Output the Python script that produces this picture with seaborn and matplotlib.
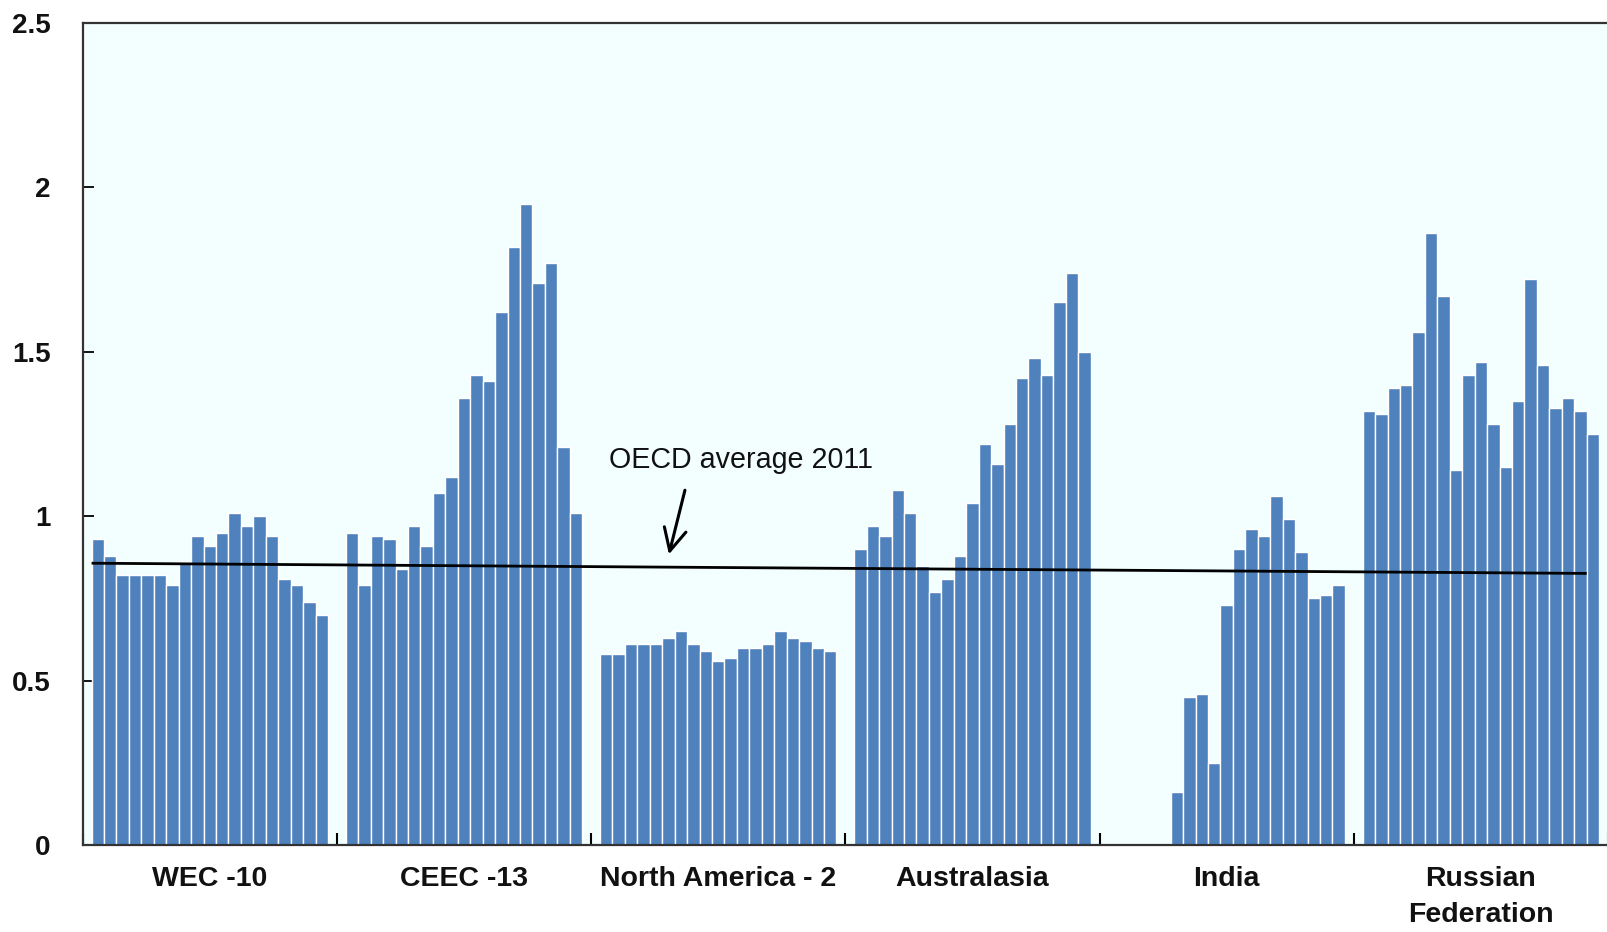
import numpy as np
import pandas as pd
import matplotlib
matplotlib.use("Agg")
import matplotlib.pyplot as plt
from matplotlib import font_manager
import seaborn as sns

# ---------------- data ----------------
regions = ["WEC -10", "CEEC -13", "North America - 2", "Australasia", "India", "Russian\nFederation"]
years = list(range(1990, 2009))  # 19 bars per region

wec = [0.93, 0.88, 0.82, 0.82, 0.82, 0.82, 0.79, 0.86, 0.94, 0.91, 0.95, 1.01, 0.97, 1.00, 0.94, 0.81, 0.79, 0.74, 0.70]
ceec = [0.95, 0.79, 0.94, 0.93, 0.84, 0.97, 0.91, 1.07, 1.12, 1.36, 1.43, 1.41, 1.62, 1.82, 1.95, 1.71, 1.77, 1.21, 1.01]
north_america = [0.58, 0.58, 0.61, 0.61, 0.61, 0.63, 0.65, 0.61, 0.59, 0.56, 0.57, 0.60, 0.60, 0.61, 0.65, 0.63, 0.62, 0.60, 0.59]
australasia = [0.90, 0.97, 0.94, 1.08, 1.01, 0.85, 0.77, 0.81, 0.88, 1.04, 1.22, 1.16, 1.28, 1.42, 1.48, 1.43, 1.65, 1.74, 1.50]
india = [np.nan, np.nan, np.nan, np.nan, np.nan, 0.16, 0.45, 0.46, 0.25, 0.73, 0.90, 0.96, 0.94, 1.06, 0.99, 0.89, 0.75, 0.76, 0.79]
russia = [1.32, 1.31, 1.39, 1.40, 1.56, 1.86, 1.67, 1.14, 1.43, 1.47, 1.28, 1.15, 1.35, 1.72, 1.46, 1.33, 1.36, 1.32, 1.25]

oecd_line = [0.857, 0.826]  # OECD average 2011, start and end of the drawn line

y_ticks = [0, 0.5, 1, 1.5, 2, 2.5]
y_ticklabels = ["0", "0.5", "1", "1.5", "2", "2.5"]

series = [wec, ceec, north_america, australasia, india, russia]
rows = []
for reg, vals in zip(regions, series):
    for yr, v in zip(years, vals):
        rows.append({"region": reg, "year": yr, "value": v})
df = pd.DataFrame(rows)

# ---------------- style ----------------
BAR = "#4F81BD"
BG = "#F3FFFF"

sns.set_theme(style="white")
plt.rcParams["font.family"] = ["Liberation Sans", "DejaVu Sans"]

available = {f.name for f in font_manager.fontManager.ttflist}
if "Liberation Sans Narrow" in available:
    tick_family = ["Liberation Sans Narrow", "Liberation Sans"]
    xt_size, yt_size = 25, 23
    lsp = 1.15
else:
    tick_family = ["Liberation Sans", "DejaVu Sans"]
    xt_size, yt_size = 20.5, 20
    lsp = 1.5

fig = plt.figure(figsize=(16.08, 9.32), dpi=100)
fig.patch.set_facecolor("white")
ax = fig.add_axes([82.7 / 1608, 1 - 845 / 932, 1 - 82.7 / 1608, (845 - 23) / 932])
ax.set_facecolor(BG)

sns.barplot(
    data=df, x="region", y="value", hue="year", order=regions, hue_order=years,
    palette=[BAR] * len(years), width=0.93, dodge=True, legend=False,
    edgecolor="white", linewidth=1.0, saturation=1, errorbar=None, ax=ax,
)

# OECD average line from the first bar to the end of the second-to-last bar
bars = sorted([p for p in ax.patches if p.get_height() > 0], key=lambda p: p.get_x())
x0 = bars[0].get_x()
x1 = bars[-2].get_x() + bars[-2].get_width()
ax.plot([x0, x1], oecd_line, color="black", lw=2.0, zorder=5, solid_capstyle="butt")

ax.text(2.09, 1.17, "OECD average 2011", ha="center", va="center", fontsize=20.6,
        color="#111111", family=["Liberation Sans", "DejaVu Sans"])
ax.annotate("", xy=(1.806, 0.884), xytext=(1.869, 1.079),
            arrowprops=dict(arrowstyle="->", lw=2.2, color="black", mutation_scale=40,
                            shrinkA=0, shrinkB=0))

# axes
ax.set_xlim(-0.5, len(regions) - 0.5)
ax.set_ylim(0, 2.5)
ax.set_yticks(y_ticks)
ax.set_yticklabels(y_ticklabels, fontsize=yt_size, fontweight="bold", family=tick_family, color="#111111")
ax.set_xticks(range(len(regions)))
ax.set_xticklabels(regions, fontsize=xt_size, fontweight="bold", family=tick_family,
                   color="#111111", linespacing=lsp)
ax.set_xticks(np.arange(-0.5, len(regions), 1.0), minor=True)
ax.tick_params(axis="x", which="major", length=0, pad=15)
ax.tick_params(axis="x", which="minor", direction="in", length=9, width=1.5, color="black", bottom=True)
ax.tick_params(axis="y", which="major", direction="in", length=8, width=1.3, color="black", pad=23, left=True)
ax.set_xlabel("")
ax.set_ylabel("")
for side in ["left", "bottom", "top"]:
    ax.spines[side].set_visible(True)
    ax.spines[side].set_color("#333333")
    ax.spines[side].set_linewidth(1.6)
ax.spines["right"].set_visible(False)
ax.grid(False)

fig.savefig("out.png", dpi=100, facecolor="white")
